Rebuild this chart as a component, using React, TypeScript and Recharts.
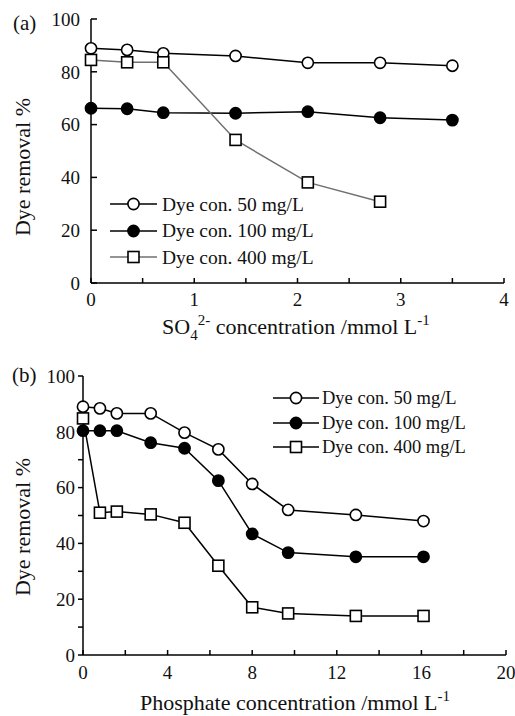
import React from 'react';
import { Legend, Line, LineChart, XAxis, YAxis } from 'recharts';

const FONT = '"Liberation Serif", "Times New Roman", serif';

// (a) sulfate
const sulfateConc = [0, 0.35, 0.7, 1.4, 2.1, 2.8, 3.5];
const sulfate50 = [88.9, 88.3, 87.0, 86.0, 83.4, 83.4, 82.3];
const sulfate100 = [66.2, 66.0, 64.5, 64.3, 64.9, 62.6, 61.7];
const sulfate400 = [84.5, 83.6, 83.6, 54.2, 38.1, 30.8, null];

// (b) phosphate
const phosConc = [0, 0.8, 1.6, 3.2, 4.8, 6.4, 8.0, 9.7, 12.9, 16.1];
const phos50 = [89.0, 88.4, 86.6, 86.6, 79.7, 73.7, 61.3, 52.0, 50.2, 48.0];
const phos100 = [80.4, 80.4, 80.4, 76.1, 74.1, 62.5, 43.4, 36.7, 35.2, 35.2];
const phos400 = [84.8, 51.0, 51.4, 50.4, 47.4, 32.0, 17.1, 14.9, 14.0, 14.0];

const seriesNames = ['Dye con. 50 mg/L', 'Dye con. 100 mg/L', 'Dye con. 400 mg/L'];

const sulfateTicksX = [0, 0.5, 1, 1.5, 2, 2.5, 3, 3.5, 4];
const sulfateTicksY = [0, 20, 40, 60, 80, 100];
const phosTicksX = [0, 2, 4, 6, 8, 10, 12, 14, 16, 18, 20];
const phosTicksY = [0, 10, 20, 30, 40, 50, 60, 70, 80, 90, 100];

const sulfateData = sulfateConc.map((x, i) => ({ x, a: sulfate50[i], b: sulfate100[i], c: sulfate400[i] }));
const phosData = phosConc.map((x, i) => ({ x, a: phos50[i], b: phos100[i], c: phos400[i] }));

const keyOrder = ['a', 'b', 'c'];
const markerOf: Record<string, string> = { a: 'open', b: 'filled', c: 'square' };

const Marker = ({ kind, cx, cy }: { kind: string; cx: number; cy: number }) => {
  if (kind === 'square') {
    return <rect x={cx - 5.5} y={cy - 5.5} width={11} height={11} fill='#fff' stroke='#000' strokeWidth={1.6} />;
  }
  return <circle cx={cx} cy={cy} r={5.6} fill={kind === 'filled' ? '#000' : '#fff'} stroke='#000' strokeWidth={1.6} />;
};

const dot = (kind: string) => (p: any) => {
  if (p.cx == null || p.cy == null || p.value == null) return <g key={`e-${p.index}`} />;
  return (
    <g key={`d-${kind}-${p.index}`}>
      <Marker kind={kind} cx={p.cx} cy={p.cy} />
    </g>
  );
};

const LegendBox = ({ payload, rowH, fontSize, lineW, gap }: any) => {
  const items = [...(payload || [])].sort((p: any, q: any) => keyOrder.indexOf(p.dataKey) - keyOrder.indexOf(q.dataKey));
  return (
    <div style={{ fontFamily: FONT, fontSize, color: '#111' }}>
      {items.map((it: any) => (
        <div key={it.dataKey} style={{ display: 'flex', alignItems: 'center', height: rowH }}>
          <svg width={lineW} height={16} style={{ display: 'block' }}>
            <line x1={0} x2={lineW} y1={8} y2={8} stroke={it.color} strokeWidth={1.5} />
            <Marker kind={markerOf[it.dataKey]} cx={lineW / 2} cy={8} />
          </svg>
          <span style={{ marginLeft: gap, lineHeight: 1, whiteSpace: 'nowrap' }}>{it.value}</span>
        </div>
      ))}
    </div>
  );
};

const XTick = (fmt: (v: number) => string) => (p: any) => (
  <text x={p.x} y={p.y} dy='0.71em' textAnchor='middle' fontFamily={FONT} fontSize={19} fill='#111'>
    {fmt(p.payload.value)}
  </text>
);

const YTick = (fmt: (v: number) => string) => (p: any) => (
  <text x={p.x} y={p.y} dy='0.355em' textAnchor='end' fontFamily={FONT} fontSize={19} fill='#111'>
    {fmt(p.payload.value)}
  </text>
);

const axisStroke = { stroke: '#000', strokeWidth: 1.5 };

// y title plus the panel tag
const YTitle = (cx: number, cy: number, tag: string, tx: number, ty: number) => () => (
  <g>
    <text x={cx} y={cy} transform={`rotate(-90, ${cx}, ${cy})`} textAnchor='middle' dominantBaseline='central'
      fontFamily={FONT} fontSize={22} fill='#111'>
      Dye removal %
    </text>
    <text x={tx} y={ty} fontFamily={FONT} fontSize={21} fill='#111'>{tag}</text>
  </g>
);

const SulfateTitle = () => (
  <text x={162} y={334} fontFamily={FONT} fontSize={22} fill='#111'>
    SO<tspan dy={6} fontSize={15}>4</tspan>
    <tspan dy={-15} fontSize={15}>2-</tspan>
    <tspan dy={9}> concentration /mmol L</tspan>
    <tspan dy={-9} fontSize={15}>-1</tspan>
  </text>
);

const PhosTitle = () => (
  <text x={140} y={352} fontFamily={FONT} fontSize={22} fill='#111'>
    Phosphate concentration /mmol L<tspan dy={-9} fontSize={15}>-1</tspan>
  </text>
);

export default function App() {
  return (
    <div style={{ position: 'absolute', left: 0, top: 0, width: 515, height: 716, background: '#fff', fontFamily: FONT }}>
      <div style={{ position: 'absolute', left: 0, top: 0 }}>
        <LineChart width={515} height={358} data={sulfateData} margin={{ top: 19, right: 11, left: 0, bottom: 0 }}>
          <XAxis dataKey='x' type='number' domain={[0, 4]} ticks={sulfateTicksX} interval={0}
            tick={XTick((v) => (Number.isInteger(v) ? String(v) : ''))}
            height={75} tickSize={-5} tickMargin={15}
            axisLine={axisStroke} tickLine={axisStroke} label={SulfateTitle} />
          <XAxis xAxisId='top' orientation='top' type='number' domain={[0, 4]} height={0}
            tick={false} tickLine={false} axisLine={axisStroke} />
          <YAxis type='number' domain={[0, 100]} ticks={sulfateTicksY} interval={0} width={91}
            tickSize={-6} tickMargin={17} tick={YTick((v) => String(v))}
            axisLine={axisStroke} tickLine={axisStroke} label={YTitle(22, 167, '(a)', 13, 30)} />
          <YAxis yAxisId='right' orientation='right' type='number' domain={[0, 100]} width={0}
            tick={false} tickLine={false} axisLine={axisStroke} />
          <Legend layout='vertical' align='center' verticalAlign='middle'
            wrapperStyle={{ left: 110, top: 191, width: 'auto' }}
            content={(p: any) => <LegendBox payload={p.payload} rowH={26.5} fontSize={19.5} lineW={47} gap={5} />} />
          <Line dataKey='a' name={seriesNames[0]} stroke='#000' strokeWidth={1.5} dot={dot('open')} isAnimationActive={false} />
          <Line dataKey='b' name={seriesNames[1]} stroke='#000' strokeWidth={1.5} dot={dot('filled')} isAnimationActive={false} />
          <Line dataKey='c' name={seriesNames[2]} stroke='#707070' strokeWidth={1.5} dot={dot('square')} isAnimationActive={false} />
        </LineChart>
      </div>
      <div style={{ position: 'absolute', left: 0, top: 358 }}>
        <LineChart width={515} height={358} data={phosData} margin={{ top: 18, right: 9, left: 0, bottom: 0 }}>
          <XAxis dataKey='x' type='number' domain={[0, 20]} ticks={phosTicksX} interval={0}
            tick={XTick((v) => (v % 4 === 0 ? String(v) : ''))}
            height={61} tickSize={-5} tickMargin={16}
            axisLine={axisStroke} tickLine={axisStroke} label={PhosTitle} />
          <XAxis xAxisId='top' orientation='top' type='number' domain={[0, 20]} height={0}
            tick={false} tickLine={false} axisLine={axisStroke} />
          <YAxis type='number' domain={[0, 100]} ticks={phosTicksY} interval={0} width={83}
            tick={YTick((v) => (v % 20 === 0 ? String(v) : ''))}
            tickSize={5} tickMargin={3}
            axisLine={axisStroke} tickLine={axisStroke} label={YTitle(22, 169, '(b)', 12, 24)} />
          <YAxis yAxisId='right' orientation='right' type='number' domain={[0, 100]} width={0}
            tick={false} tickLine={false} axisLine={axisStroke} />
          <Legend layout='vertical' align='center' verticalAlign='middle'
            wrapperStyle={{ left: 273, top: 28, width: 'auto' }}
            content={(p: any) => <LegendBox payload={p.payload} rowH={24.5} fontSize={18.5} lineW={46} gap={3} />} />
          <Line dataKey='a' name={seriesNames[0]} stroke='#000' strokeWidth={1.5} dot={dot('open')} isAnimationActive={false} />
          <Line dataKey='b' name={seriesNames[1]} stroke='#000' strokeWidth={1.5} dot={dot('filled')} isAnimationActive={false} />
          <Line dataKey='c' name={seriesNames[2]} stroke='#000' strokeWidth={1.5} dot={dot('square')} isAnimationActive={false} />
        </LineChart>
      </div>
    </div>
  );
}
